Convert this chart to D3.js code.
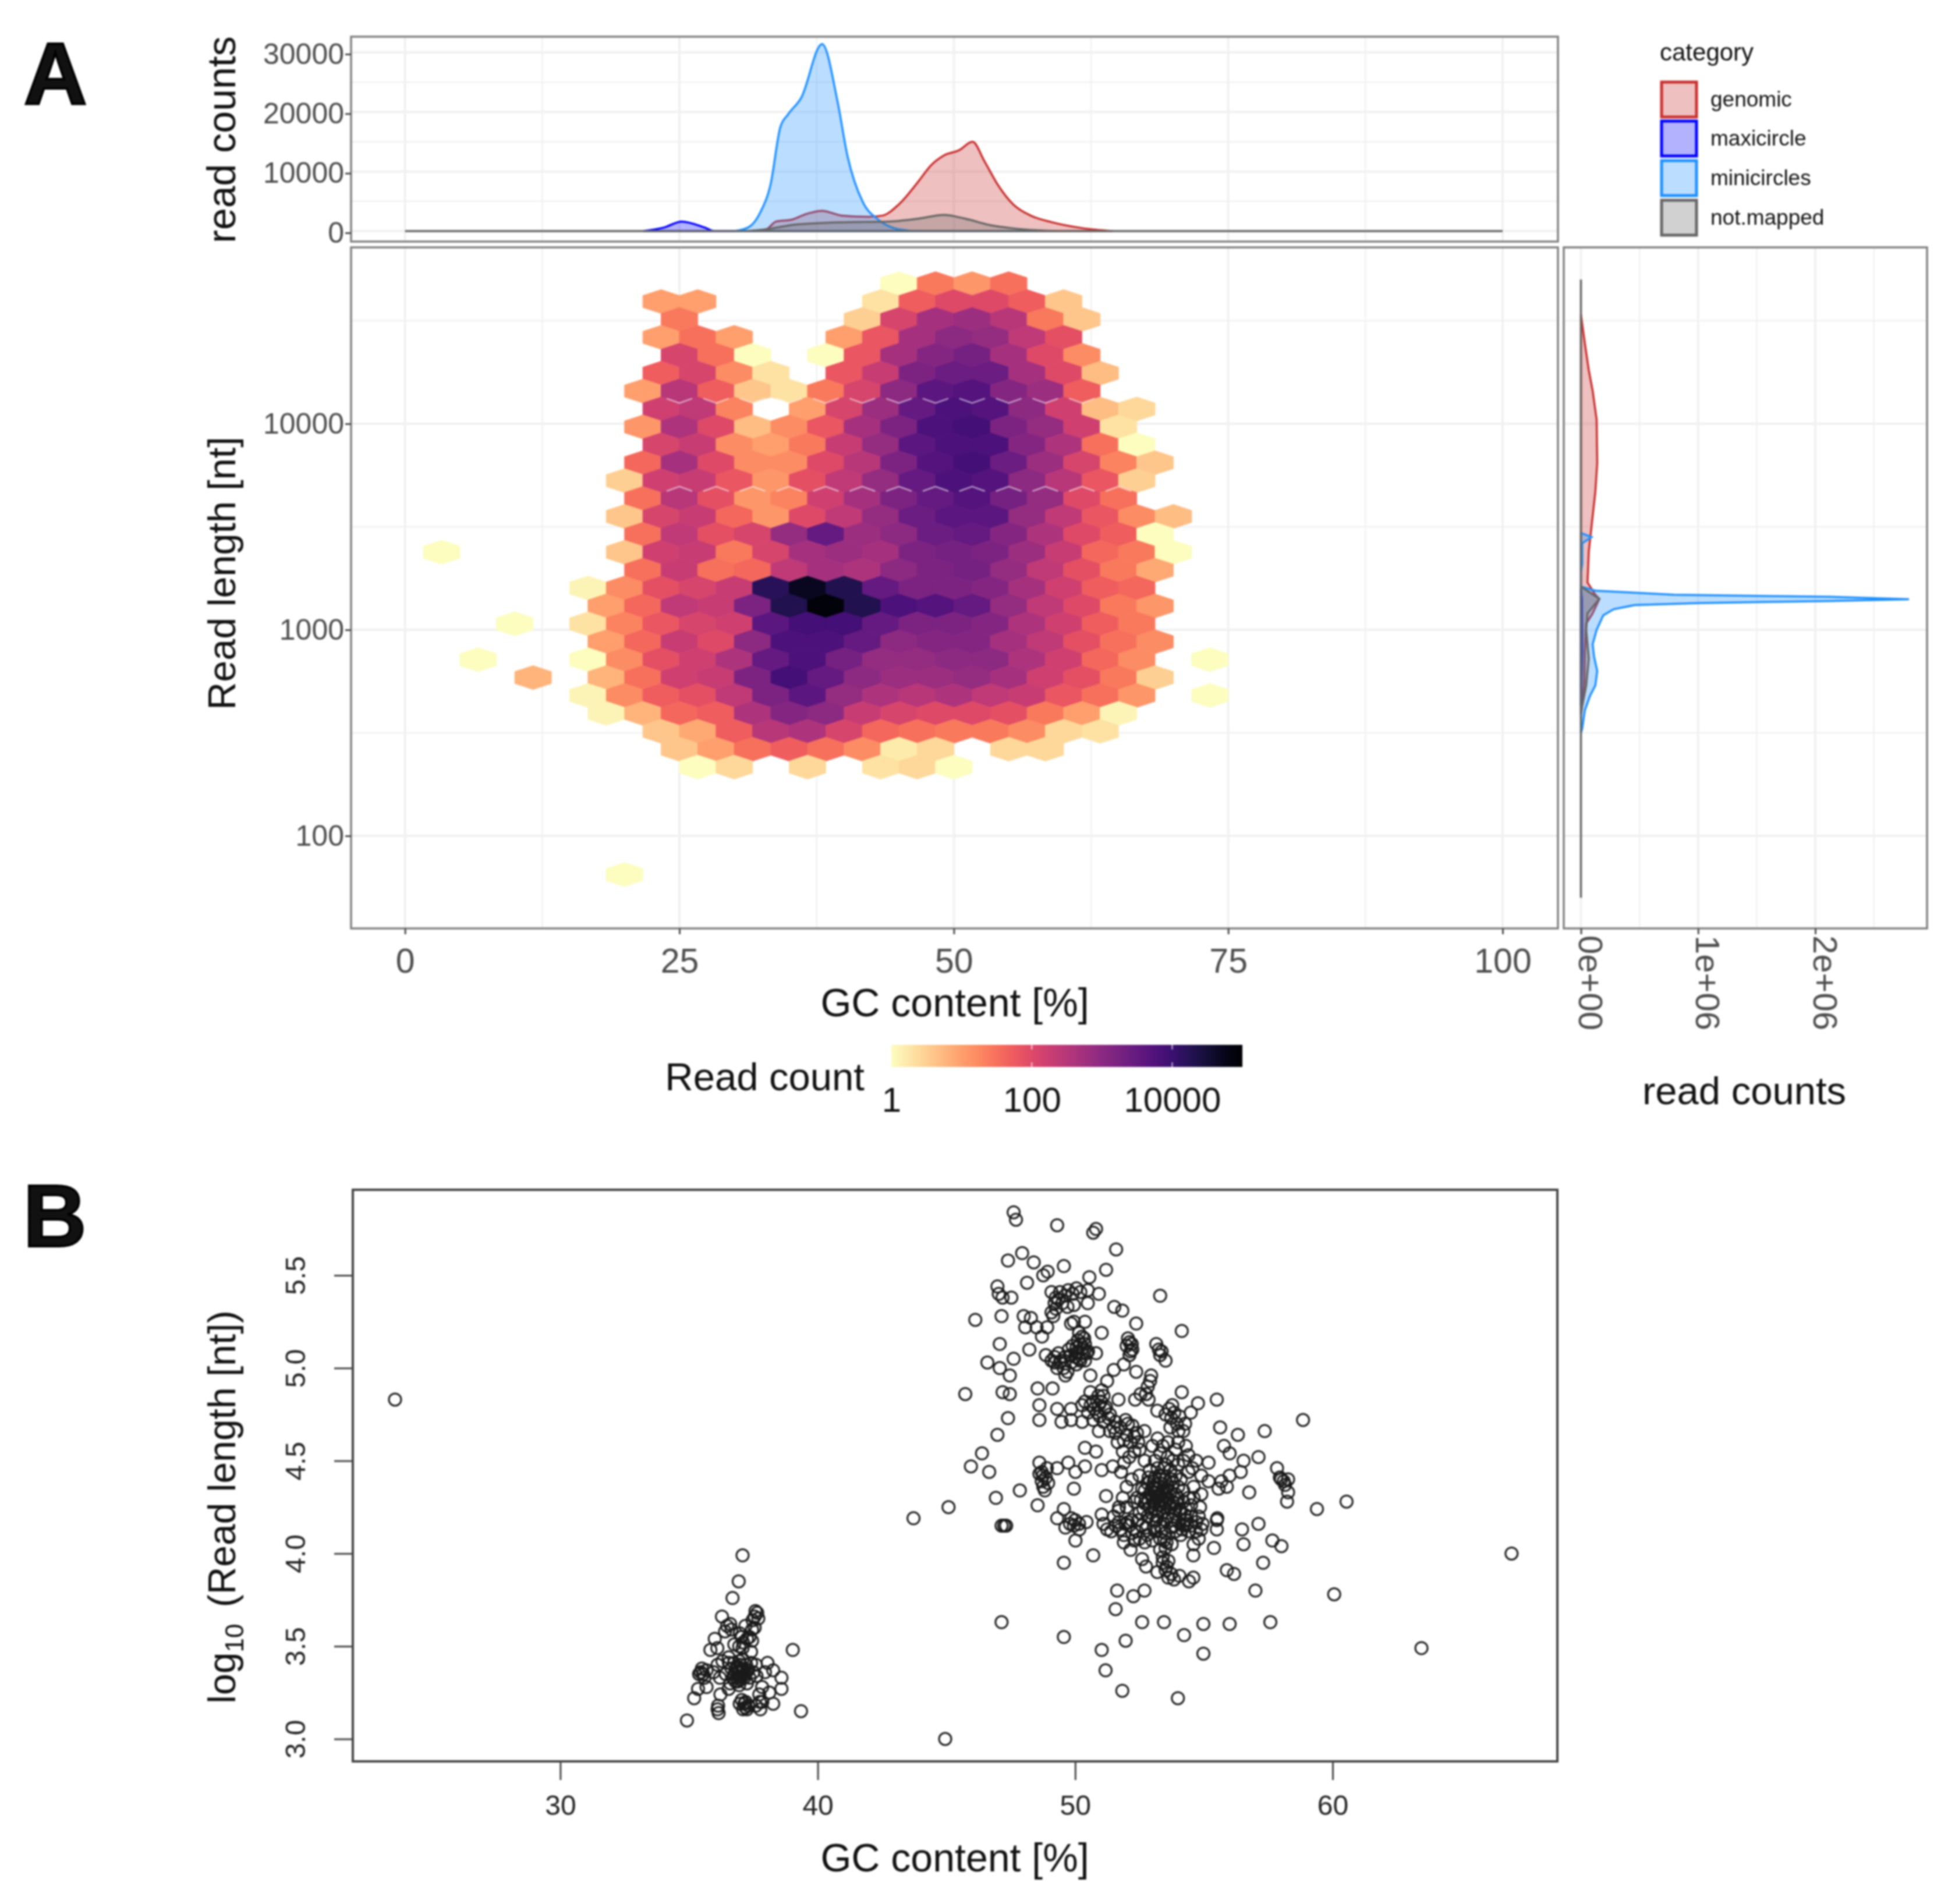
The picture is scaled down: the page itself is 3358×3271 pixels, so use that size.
<!DOCTYPE html>
<html lang="en">

<head>
  <meta charset="UTF-8">
  <title>Read length vs GC content</title>
  <script src="https://d3js.org/d3.v7.min.js"></script>
  <style>
    body { margin: 0; background: white; }
    svg { display: block; filter: blur(1.8px); font-family: "Liberation Sans", Arial, sans-serif; }
  </style>
</head>

<body>
  <svg id="figure" width="3358" height="3271"></svg>

  <script>
    // categories of the density curves
    const categories = ["genomic", "maxicircle", "minicircles", "not.mapped"];
    const catColors = ["#c8302f", "#0000ff", "#1e90ff", "#666666"];

    // top density: GC content [%] and read counts
    const topGenomicGC = [31.3, 32.9, 33.8, 35.2, 36.6, 38, 39.8, 42.2, 43.5, 45, 46.8, 47.9, 49.1, 50.5, 51.7, 52.8, 54, 55.4, 57, 58.9, 61.7, 64.5];
    const topGenomic = [0, 300, 1600, 1900, 2900, 3400, 2600, 2400, 2600, 4500, 8400, 11000, 12700, 13600, 15000, 11700, 7800, 4500, 2600, 1500, 500, 0];
    const topMaxiGC = [21.7, 23.6, 25.2, 27.3, 28.2, 47];
    const topMaxi = [0, 600, 1600, 600, 0, 0];
    const topMiniGC = [30, 31.3, 32.4, 33.3, 34.2, 34.9, 36.1, 38, 39.4, 40.3, 41.7, 43.1, 45, 46.8, 57.5];
    const topMini = [0, 650, 3250, 7800, 17500, 19600, 22400, 31400, 21800, 12700, 4900, 1950, 300, 0, 0];
    const topNotGC = [0, 31, 32.9, 35.6, 40.3, 44, 46.8, 49.1, 51, 53.3, 55.2, 58, 60, 100];
    const topNot = [0, 0, 300, 1100, 1500, 1600, 2100, 2700, 2100, 1000, 500, 100, 0, 0];

    // right density: log10 read length and read counts
    const rightGenomicLen = [4.53, 4.39, 4.26, 4.16, 4.02, 3.81, 3.67, 3.52, 3.38, 3.28, 3.23, 3.17, 3.15, 3.08, 3.03, 2.89, 2.75, 2.64, 2.59];
    const rightGenomic = [0, 33500, 67000, 100000, 134000, 139000, 123000, 94000, 67000, 60000, 56000, 123000, 157000, 100000, 45000, 33500, 29000, 11000, 0];
    const rightMaxiLen = [3.2, 3.15, 2.9, 2.63];
    const rightMaxi = [0, 8000, 10000, 0];
    const rightMiniLen = [3.47, 3.45, 3.42, 3.32, 3.28, 3.21, 3.19, 3.17, 3.16, 3.148, 3.14, 3.13, 3.12, 3.10, 3.07, 3.0, 2.93, 2.87, 2.80, 2.73, 2.68, 2.61, 2.52, 2.50];
    const rightMini = [0, 90000, 11000, 11000, 0, 0, 123000, 794000, 2130000, 2800000, 2130000, 1020000, 458000, 280000, 190000, 134000, 100000, 112000, 139000, 123000, 78000, 33500, 11000, 0];
    const rightNotLen = [4.7, 3.21, 3.15, 3.08, 3.0, 2.86, 2.73, 2.63, 2.59, 1.7];
    const rightNot = [0, 0, 157000, 56000, 45000, 67000, 45000, 11000, 0, 0];

    // hexbin cells: [row from top, first column, log10 read count per cell]
    // null = empty cell, columns advance by two in a row
    const hexRows = [
      [0, 27, [0, 1.4, 1.1, 1.5]],
      [1, 14, [1.0, 1.0]],
      [1, 26, [0.3, 1.7, 2.0, 2.0, 1.7, 0.6]],
      [2, 15, [1.4]],
      [2, 25, [0.5, 2.1, 2.7, 2.8, 2.5, 1.4, 0.6]],
      [3, 14, [1.0, 1.5, 1.0]],
      [3, 24, [1.0, 1.8, 2.7, 3.0, 2.9, 2.4, 1.9]],
      [4, 15, [2.1, 1.5, 0]],
      [4, 23, [0, 1.8, 2.7, 3.1, 3.3, 2.7, 2.0, 1.2]],
      [5, 14, [1.7, 2.1, 1.2, 0.3]],
      [5, 24, [1.8, 2.3, 3.2, 3.4, 3.4, 2.7, 2.0, 0.7]],
      [6, 13, [1.0, 2.5, 1.7, 0.6, 0.3, 1.4, 2.1, 3.0, 3.6, 3.7, 3.1, 2.8, 1.7]],
      [7, 14, [2.2, 2.4, 1.3, null, 1.0, 2.1, 2.8, 3.5, 3.8, 3.7, 3.0, 2.2, 0.7, 0.4]],
      [8, 13, [1.1, 2.6, 2.0, 0.7, 1.2, 1.8, 2.7, 3.2, 3.8, 3.9, 3.2, 2.9, 2.2, 0.3]],
      [9, 14, [2.1, 2.3, 1.2, 1.0, 1.4, 2.3, 2.9, 3.6, 3.8, 3.8, 3.1, 2.6, 1.5, 0]],
      [10, 13, [1.6, 2.7, 2.0, 1.2, 1.2, 2.0, 2.5, 3.2, 3.7, 3.9, 3.4, 2.8, 2.1, 1.3, 0.6]],
      [11, 12, [0.5, 2.2, 2.3, 1.8, 1.1, 1.9, 2.4, 2.9, 3.5, 3.8, 3.7, 3.0, 2.5, 1.8, 0.5]],
      [12, 13, [1.5, 2.5, 1.9, 1.1, 1.3, 2.2, 2.7, 3.2, 3.5, 3.7, 3.3, 2.9, 2.0, 1.5]],
      [13, 12, [0.6, 2.1, 2.3, 1.6, 1.1, 2.0, 2.4, 2.9, 3.4, 3.6, 3.6, 2.9, 2.4, 1.8, 1.2, 0.7]],
      [14, 13, [1.5, 2.4, 1.9, 2.1, 2.9, 3.5, 2.8, 3.0, 3.4, 3.5, 3.1, 2.6, 2.0, 1.7, 0]],
      [15, 2, [0]],
      [15, 12, [0.6, 2.2, 2.3, 1.4, 2.1, 2.7, 2.8, 2.7, 3.2, 3.3, 3.2, 2.8, 2.3, 1.6, 1.4, 0]],
      [16, 13, [1.5, 2.3, 1.5, 1.6, 2.4, 2.7, 2.6, 3.0, 3.2, 3.3, 2.9, 2.4, 1.9, 1.4, 0.9]],
      [17, 10, [0.1, 1.2, 1.9, 2.1, 2.3, 4.2, 4.7, 4.3, 3.5, 3.2, 3.2, 3.1, 2.7, 2.2, 1.7, 1.6]],
      [18, 11, [1.0, 1.6, 2.4, 2.3, 3.2, 4.3, 4.9, 4.3, 3.8, 3.7, 3.5, 2.9, 2.4, 2.0, 1.4, 1.1]],
      [19, 6, [0]],
      [19, 10, [0.3, 1.3, 1.8, 2.1, 2.2, 3.6, 3.9, 3.9, 3.5, 3.2, 3.2, 3.1, 2.6, 2.2, 1.7, 1.4]],
      [20, 11, [1.0, 1.6, 2.3, 2.0, 3.0, 3.8, 3.8, 3.5, 3.0, 3.1, 3.1, 2.7, 2.4, 1.9, 1.5, 1.2]],
      [21, 4, [0]],
      [21, 10, [0, 1.2, 1.9, 2.2, 2.6, 3.5, 3.8, 3.3, 2.9, 2.9, 3.0, 3.0, 2.6, 2.2, 1.6, 1.2]],
      [21, 44, [0]],
      [22, 7, [0.8]],
      [22, 11, [0.8, 1.5, 2.2, 2.3, 3.2, 3.9, 3.5, 3.0, 2.8, 2.8, 2.9, 2.7, 2.2, 1.9, 1.4, 0.5]],
      [23, 10, [0.1, 1.2, 1.7, 1.9, 2.4, 3.2, 3.6, 2.9, 2.6, 2.5, 2.6, 2.4, 2.3, 1.8, 1.5, 1.1]],
      [23, 44, [0]],
      [24, 11, [0.1, 0.8, 1.6, 1.7, 2.6, 3.1, 3.0, 2.3, 2.1, 2.0, 2.0, 1.9, 1.4, 1.0, 0.1]],
      [25, 14, [0.6, 0.9, 1.7, 2.5, 2.6, 2.1, 1.6, 1.5, 1.4, 1.4, 1.2, 0.4, 0.3]],
      [26, 15, [0.6, 1.0, 1.5, 1.7, 1.5, 1.2, 0.2, 0.4]],
      [26, 33, [0.4, 0.4]],
      [27, 16, [0, 0.4]],
      [27, 22, [0.4]],
      [27, 26, [0.3, 0.4, 0]],
      [33, 12, [0]]
    ];

    // tick labels
    const gcTicks = [0, 25, 50, 75, 100];
    const lenTicks = [2, 3, 4];
    const lenLabels = ["100", "1000", "10000"];
    const topTicks = [0, 10000, 20000, 30000];
    const rightTicks = [0, 1000000, 2000000];
    const rightLabels = ["0e+00", "1e+06", "2e+06"];
    const legendTicks = [0, 2, 4];
    const legendLabels = ["1", "100", "10000"];
    const bXTicks = [30, 40, 50, 60];
    const bYTicks = [3.0, 3.5, 4.0, 4.5, 5.0, 5.5];

    // panel B: [GC content, log10 read length]
    const readPoints = [
      [23.58, 4.83], [63.45, 3.49], [66.95, 4.0], [60.06, 3.78], [44.95, 3.0], [43.72, 4.19], [45.08, 4.25],
      [47.61, 5.84], [47.7, 5.8], [49.3, 5.77], [50.7, 5.73], [50.81, 5.75], [51.59, 5.64], [47.94, 5.62], [47.39, 5.58],
      [48.39, 5.57], [49.56, 5.55], [51.2, 5.53], [48.93, 5.52], [48.76, 5.5], [50.55, 5.49], [48.13, 5.46], [46.98, 5.44],
      [47.03, 5.4], [47.18, 5.38], [47.52, 5.38], [49.08, 5.41], [49.41, 5.41], [49.73, 5.42], [50.05, 5.43], [50.49, 5.42],
      [50.92, 5.4], [49.25, 5.38], [49.95, 5.34], [50.49, 5.35], [53.3, 5.39], [51.52, 5.33], [51.83, 5.31], [46.12, 5.26],
      [47.14, 5.28], [48.0, 5.28], [48.28, 5.27], [49.08, 5.3], [49.95, 5.25], [50.38, 5.25], [49.84, 5.24], [52.37, 5.24],
      [48.06, 5.22], [48.5, 5.22], [48.91, 5.22], [48.71, 5.17], [51.03, 5.19], [54.14, 5.2], [47.07, 5.13], [50.27, 5.17],
      [50.38, 5.13], [50.05, 5.11], [52.11, 5.14], [52.0, 5.12], [52.22, 5.1], [53.15, 5.13], [53.36, 5.09], [48.22, 5.1],
      [48.86, 5.07], [49.08, 5.04], [49.84, 5.07], [50.27, 5.08], [50.81, 5.08], [52.11, 5.07], [53.51, 5.04], [47.61, 5.05],
      [46.59, 5.03], [47.07, 5.0], [49.3, 5.0], [50.38, 5.04], [50.05, 5.02], [51.89, 5.02], [51.5, 4.99], [52.37, 4.98],
      [47.46, 4.96], [49.62, 4.96], [50.59, 4.96], [52.91, 4.93], [52.82, 4.9], [48.54, 4.89], [49.12, 4.89], [51.24, 4.93],
      [47.18, 4.87], [47.46, 4.86], [45.73, 4.86], [50.59, 4.87], [51.03, 4.88], [54.14, 4.87], [49.4, 5.03], [49.6, 5.06],
      [50.15, 5.05], [50.5, 5.09], [49.2, 5.06], [50.2, 5.13], [49.75, 5.1], [50.1, 5.15], [49.5, 5.35], [49.7, 5.33],
      [50.1, 5.09], [50.3, 5.11], [50.45, 5.08], [50.2, 5.04], [50.0, 5.06], [49.9, 5.12], [50.15, 5.19], [50.35, 5.16],
      [49.45, 5.04], [49.2, 5.03], [49.35, 5.08], [49.55, 5.0], [49.7, 4.98], [49.85, 5.03], [52.05, 5.16], [52.15, 5.09],
      [52.2, 5.13], [53.25, 5.1], [53.3, 5.07], [49.2, 5.35], [49.35, 5.37], [49.6, 5.39], [49.9, 5.4], [50.2, 5.41],
      [49.15, 5.28], [49.25, 5.32], [52.95, 4.96], [52.75, 4.86], [52.85, 4.83],
      [52.54, 4.86], [52.33, 4.83], [51.68, 4.83], [50.38, 4.82], [55.5, 4.83], [54.77, 4.81], [48.61, 4.8], [49.3, 4.78],
      [49.84, 4.78], [50.27, 4.8], [50.92, 4.8], [51.14, 4.78], [53.77, 4.8], [53.19, 4.77], [54.49, 4.76], [47.39, 4.73],
      [48.61, 4.72], [49.47, 4.71], [49.84, 4.72], [50.27, 4.71], [50.7, 4.72], [51.57, 4.71], [53.51, 4.75], [53.73, 4.73],
      [54.05, 4.74], [58.85, 4.72], [51.96, 4.72], [46.98, 4.64], [52.22, 4.69], [52.69, 4.66], [55.63, 4.68], [57.36, 4.66],
      [54.27, 4.7], [50.92, 4.66], [51.57, 4.65], [51.89, 4.61], [56.32, 4.64], [54.01, 4.66], [50.7, 4.82], [50.85, 4.76],
      [51.1, 4.85], [51.3, 4.73], [50.5, 4.76], [50.6, 4.8], [51.75, 4.68], [52.0, 4.64], [52.15, 4.6], [51.65, 4.6],
      [50.9, 4.85], [51.0, 4.82], [51.2, 4.79], [50.75, 4.78], [50.95, 4.74], [51.1, 4.71], [51.35, 4.75], [51.5, 4.68],
      [51.35, 4.66], [52.05, 4.7], [52.3, 4.63], [52.45, 4.6], [52.5, 4.56], [52.4, 4.65], [51.85, 4.55], [53.85, 4.76],
      [53.65, 4.78], [53.95, 4.7], [53.7, 4.68], [54.2, 4.66],
      [46.38, 4.54], [45.95, 4.47], [46.66, 4.44], [48.61, 4.49], [49.3, 4.46], [49.73, 4.49], [50.38, 4.47], [50.01, 4.44],
      [50.38, 4.57], [50.81, 4.55], [51.03, 4.45], [51.46, 4.47], [51.78, 4.44], [48.61, 4.43], [48.86, 4.41], [48.76, 4.36],
      [48.82, 4.34], [47.85, 4.34], [49.95, 4.35], [46.92, 4.3], [48.54, 4.26], [51.2, 4.31], [49.56, 4.24], [49.3, 4.19],
      [49.95, 4.15], [49.62, 4.14], [50.16, 4.13], [50.01, 4.07], [50.44, 4.17], [51.03, 4.21], [51.68, 4.23], [51.24, 4.13],
      [51.57, 4.15], [51.89, 4.1], [52.22, 4.11], [51.89, 4.06], [47.14, 4.15], [47.24, 4.15], [47.32, 4.15], [48.7, 4.39],
      [48.75, 4.42], [49.8, 4.16], [51.1, 4.16], [51.4, 4.12], [52.05, 4.17], [51.7, 4.17], [52.1, 4.52], [51.9, 4.49],
      [49.85, 4.19], [50.0, 4.18], [50.15, 4.16], [48.95, 4.38], [48.7, 4.44], [48.9, 4.46],
      [55.18, 4.49], [55.78, 4.58], [56.0, 4.54], [56.54, 4.5], [57.12, 4.52], [56.43, 4.44], [56.0, 4.42], [55.68, 4.39],
      [55.18, 4.39], [55.57, 4.35], [55.89, 4.36], [56.76, 4.33], [57.84, 4.46], [57.95, 4.41], [58.1, 4.39], [58.27, 4.4],
      [58.0, 4.4], [58.15, 4.37], [58.27, 4.33], [58.23, 4.28], [59.39, 4.24], [60.54, 4.28], [55.5, 4.18], [55.5, 4.13],
      [55.52, 4.19], [56.48, 4.13], [57.12, 4.16], [57.66, 4.07], [58.01, 4.04], [56.54, 4.05], [55.39, 4.03], [54.59, 3.99],
      [57.3, 3.95], [55.89, 3.91], [56.17, 3.89], [57.0, 3.8], [54.59, 3.87], [54.42, 3.85], [57.58, 3.63], [56.0, 3.62],
      [54.98, 3.62], [54.23, 3.56], [53.45, 3.63], [52.6, 3.63], [47.14, 3.63], [49.56, 3.55], [51.96, 3.53], [51.03, 3.48],
      [54.98, 3.46], [51.18, 3.37], [51.83, 3.26], [53.99, 3.22], [51.57, 3.7], [52.26, 3.77], [52.69, 3.8], [51.63, 3.8],
      [49.56, 3.95], [50.7, 3.99], [52.6, 3.97], [52.75, 3.93], [53.3, 4.02], [53.51, 4.03], [53.4, 3.95], [53.62, 3.96],
      [53.19, 3.9], [53.51, 3.91], [53.73, 3.89], [53.84, 3.86], [53.62, 3.87], [54.05, 3.88], [53.4, 3.98], [53.55, 3.93],
      // dense core
      [52.2, 4.4], [52.3, 4.55], [52.4, 4.3], [52.5, 4.22], [52.5, 4.42], [52.6, 4.15], [52.6, 4.35], [52.7, 4.5], [52.7, 4.27],
      [52.8, 4.1], [52.8, 4.2], [52.8, 4.38], [52.9, 4.32], [52.9, 4.45], [52.9, 4.25], [53.0, 4.58], [53.0, 4.18], [53.0, 4.3],
      [53.0, 4.36], [53.1, 4.12], [53.1, 4.24], [53.1, 4.28], [53.1, 4.33], [53.1, 4.41], [53.1, 4.5], [53.2, 4.62], [53.2, 4.2],
      [53.2, 4.3], [53.2, 4.35], [53.2, 4.46], [53.3, 4.08], [53.3, 4.15], [53.3, 4.26], [53.3, 4.31], [53.3, 4.38], [53.3, 4.54],
      [53.4, 4.22], [53.4, 4.29], [53.4, 4.34], [53.4, 4.42], [53.4, 4.58], [53.5, 4.11], [53.5, 4.18], [53.5, 4.27], [53.5, 4.33],
      [53.5, 4.4], [53.5, 4.48], [53.6, 4.22], [53.6, 4.3], [53.6, 4.36], [53.6, 4.52], [53.6, 4.6], [53.7, 4.14], [53.7, 4.25],
      [53.7, 4.33], [53.7, 4.45], [53.8, 4.2], [53.8, 4.28], [53.8, 4.38], [53.8, 4.5], [53.9, 4.12], [53.9, 4.24], [53.9, 4.32],
      [53.9, 4.42], [53.9, 4.56], [54.0, 4.17], [54.0, 4.3], [54.0, 4.36], [54.0, 4.48], [54.0, 4.6], [54.1, 4.22], [54.1, 4.4],
      [54.1, 4.1], [54.2, 4.15], [54.2, 4.28], [54.2, 4.34], [54.2, 4.5], [54.3, 4.58], [54.3, 4.24], [54.3, 4.18], [54.4, 4.12],
      [54.4, 4.3], [54.4, 4.44], [54.5, 4.2], [54.5, 4.15], [54.5, 4.26], [54.6, 4.3], [54.6, 4.36], [54.7, 4.17], [54.7, 4.12],
      [54.8, 4.2], [54.8, 4.08], [54.6, 4.05], [52.1, 4.15], [52.2, 4.18], [52.0, 4.25], [52.4, 4.12], [52.5, 4.08], [52.3, 4.28],
      [52.75, 4.3], [52.85, 4.28], [52.95, 4.22], [53.05, 4.27], [53.15, 4.31], [53.25, 4.23], [53.35, 4.33], [52.95, 4.34],
      [53.05, 4.39], [53.15, 4.18], [53.25, 4.28], [52.65, 4.24], [52.7, 4.34], [53.45, 4.25], [53.55, 4.35], [53.65, 4.27],
      [53.75, 4.4], [52.55, 4.29], [52.85, 4.41], [53.25, 4.42], [53.45, 4.46], [53.75, 4.18], [53.95, 4.27], [54.05, 4.24],
      [54.25, 4.21], [54.35, 4.16], [54.15, 4.13], [53.85, 4.15], [53.35, 4.12], [53.05, 4.14], [52.75, 4.14], [52.45, 4.18],
      [54.55, 4.46], [54.4, 4.53], [54.7, 4.5], [54.9, 4.42], [52.0, 4.36], [51.85, 4.3], [51.7, 4.25], [51.5, 4.2],
      [51.75, 4.13], [51.95, 4.16], [52.3, 4.07], [52.15, 4.02], [53.75, 4.05], [53.45, 4.07], [54.95, 4.16], [54.85, 4.25],
      [54.9, 4.32], [52.7, 4.06], [53.0, 4.07], [53.55, 4.06], [54.9, 4.13],
      // lower left cluster
      [37.08, 3.99], [36.93, 3.85], [36.69, 3.76], [36.28, 3.66], [36.48, 3.61], [37.58, 3.69], [37.69, 3.65], [37.47, 3.64],
      [37.19, 3.61], [37.45, 3.59], [36.65, 3.59], [36.97, 3.57], [37.25, 3.54], [36.0, 3.54], [35.83, 3.48], [36.1, 3.49],
      [36.76, 3.51], [37.08, 3.49], [37.41, 3.47], [39.03, 3.48], [38.05, 3.41], [37.08, 3.43], [36.54, 3.44], [36.11, 3.4],
      [35.68, 3.37], [35.39, 3.35], [38.27, 3.37], [38.59, 3.33], [38.59, 3.27], [38.12, 3.25], [38.27, 3.19], [37.77, 3.16],
      [39.35, 3.15], [37.19, 3.17], [36.97, 3.19], [36.11, 3.16], [35.2, 3.22], [34.92, 3.1], [35.35, 3.27], [35.68, 3.28],
      [36.22, 3.24], [36.54, 3.27], [37.73, 3.24], [37.84, 3.28], [36.65, 3.38], [36.86, 3.39], [37.08, 3.38], [37.3, 3.37],
      [36.76, 3.35], [36.97, 3.34], [37.19, 3.35], [37.41, 3.41], [36.43, 3.35], [37.62, 3.34], [36.9, 3.36], [37.0, 3.4],
      [37.15, 3.33], [36.8, 3.31], [37.25, 3.3], [36.95, 3.29], [37.6, 3.4], [36.3, 3.42], [37.3, 3.18], [37.1, 3.16],
      [37.2, 3.2], [36.13, 3.18], [37.45, 3.53], [37.05, 3.55], [35.45, 3.36], [35.6, 3.33], [37.75, 3.2], [37.95, 3.36],
      [36.7, 3.33], [36.85, 3.33], [37.0, 3.32], [37.12, 3.37], [37.22, 3.4], [36.75, 3.41], [36.6, 3.3], [36.95, 3.42],
      [37.35, 3.33], [37.5, 3.36], [36.55, 3.41], [36.9, 3.31], [37.05, 3.36], [36.98, 3.37], [36.88, 3.38], [37.1, 3.34],
      [36.2, 3.33], [35.95, 3.36], [35.55, 3.35], [35.5, 3.38], [37.55, 3.6], [37.65, 3.68], [37.55, 3.66], [36.6, 3.62],
      [36.4, 3.58], [37.1, 3.52], [36.95, 3.5], [37.35, 3.55], [37.6, 3.18], [37.25, 3.16], [37.15, 3.19], [37.05, 3.21],
      [36.15, 3.14], [37.85, 3.2]
    ];

    const svg = d3.select("svg#figure");

    // panel rectangles
    const topPanel = { left: 603, right: 2676, top: 63, bottom: 415 };
    const mainPanel = { left: 603, right: 2676, top: 425, bottom: 1595 };
    const rightPanel = { left: 2686, right: 3310, top: 425, bottom: 1595 };
    const bPanel = { left: 606, right: 2675, top: 2044, bottom: 3026 };

    // scales
    const gcScale = d3.scaleLinear().domain([0, 100]).range([695.7, 2581]);
    const lenScale = d3.scaleLinear().domain([2, 4]).range([1436, 728]);
    const topScale = d3.scaleLinear().domain([0, 30000]).range([397, 90]);
    const rightScale = d3.scaleLinear().domain([0, 2000000]).range([2715.5, 3118]);
    const legendScale = d3.scaleLinear().domain([0, 5]).range([1531, 2134]);
    const bX = d3.scaleLinear().domain([40, 60]).range([1404.6, 2289]);
    const bY = d3.scaleLinear().domain([3, 5.5]).range([2987.5, 2191]);

    const magma = v => d3.interpolateMagma(1 - v / 5);
    const axisGray = "#4d4d4d";

    //background grid
    function grid(panel, xs, ys, width) {
      let g = svg.append("g").attr("stroke", "#f1f1f1").attr("stroke-width", width);
      g.selectAll("line.v").data(xs).join("line")
        .attr("x1", d => d).attr("x2", d => d).attr("y1", panel.top).attr("y2", panel.bottom);
      g.selectAll("line.h").data(ys).join("line")
        .attr("x1", panel.left).attr("x2", panel.right).attr("y1", d => d).attr("y2", d => d);
    }

    const gcMinor = [12.5, 37.5, 62.5, 87.5];
    const lenMinor = [2.5, 3.5, 4.5];
    grid(topPanel, gcTicks.map(gcScale), topTicks.map(topScale), 4);
    grid(topPanel, gcMinor.map(gcScale), [5000, 15000, 25000].map(topScale), 2.5);
    grid(mainPanel, gcTicks.map(gcScale), lenTicks.map(lenScale), 4);
    grid(mainPanel, gcMinor.map(gcScale), lenMinor.map(lenScale), 2.5);
    grid(rightPanel, rightTicks.map(rightScale), lenTicks.map(lenScale), 4);
    grid(rightPanel, [500000, 1500000, 2500000].map(rightScale), lenMinor.map(lenScale), 2.5);

    //hexagons
    const colStep = 100 / 60;
    const rowTop = 4.68, rowStep = 0.0869;
    const hexR = rowStep / 1.5;
    const hexLine = d3.line().x(d => gcScale(d[0])).y(d => lenScale(d[1]));

    const hexCells = hexRows.flatMap(([row, col, vals]) =>
      vals.map((v, i) => ({ row: row, col: col + 2 * i, v: v })).filter(d => d.v !== null));

    function hexPath(d) {
      const gc = d.col * colStep, lg = rowTop - d.row * rowStep;
      return hexLine([
        [gc, lg + hexR], [gc + colStep, lg + hexR / 2], [gc + colStep, lg - hexR / 2],
        [gc, lg - hexR], [gc - colStep, lg - hexR / 2], [gc - colStep, lg + hexR / 2]
      ]) + "Z";
    }

    svg.append("g").selectAll("path").data(hexCells).join("path")
      .attr("d", hexPath)
      .attr("fill", d => magma(d.v))
      .attr("stroke", d => magma(d.v))
      .attr("stroke-width", 1);

    // pale seams the hexagons leave along two rows
    function seamPath(d, side) {
      const gc = d.col * colStep, lg = rowTop - d.row * rowStep;
      return hexLine([
        [gc - colStep * 0.7, lg + side * hexR * 0.62], [gc, lg + side * hexR], [gc + colStep * 0.7, lg + side * hexR * 0.62]
      ]);
    }
    const seams = svg.append("g").attr("fill", "none").attr("stroke", "white")
      .attr("stroke-width", 2.5).attr("stroke-opacity", 0.55);
    seams.selectAll("path.low").data(hexCells.filter(d => d.row == 6 && d.col >= 15)).join("path")
      .attr("d", d => seamPath(d, -1));
    seams.selectAll("path.up").data(hexCells.filter(d => d.row == 12 && d.col >= 15)).join("path")
      .attr("d", d => seamPath(d, 1));

    //density curves
    const topSeries = [
      { x: topGenomicGC, y: topGenomic }, { x: topMaxiGC, y: topMaxi },
      { x: topMiniGC, y: topMini }, { x: topNotGC, y: topNot }
    ];
    const rightSeries = [
      { x: rightGenomicLen, y: rightGenomic }, { x: rightMaxiLen, y: rightMaxi },
      { x: rightMiniLen, y: rightMini }, { x: rightNotLen, y: rightNot }
    ];

    const topArea = d3.area().curve(d3.curveMonotoneX)
      .x(d => gcScale(d[0])).y0(topScale(0)).y1(d => topScale(d[1]));
    const rightArea = d3.area().y(d => lenScale(d[0])).x0(rightScale(0)).x1(d => rightScale(d[1]));

    topSeries.forEach((s, i) => {
      const pts = d3.zip(s.x, s.y);
      svg.append("path").attr("d", topArea(pts) + "Z")
        .attr("fill", catColors[i]).attr("fill-opacity", 0.3)
        .attr("stroke", catColors[i]).attr("stroke-width", 3.5);
    });
    rightSeries.forEach((s, i) => {
      const pts = d3.zip(s.x, s.y);
      svg.append("path").attr("d", rightArea(pts) + "Z")
        .attr("fill", catColors[i]).attr("fill-opacity", 0.3)
        .attr("stroke", catColors[i]).attr("stroke-width", 3.5);
    });

    //panel borders
    [topPanel, mainPanel, rightPanel].forEach(p => {
      svg.append("rect").attr("x", p.left).attr("y", p.top)
        .attr("width", p.right - p.left).attr("height", p.bottom - p.top)
        .attr("fill", "none").attr("stroke", "#808080").attr("stroke-width", 3.5);
    });

    //axes
    function styleAxis(g, size) {
      g.select(".domain").remove();
      g.selectAll(".tick line").attr("stroke", axisGray).attr("stroke-width", 3);
      g.selectAll(".tick text").attr("fill", axisGray).attr("font-size", size).attr("font-family", "Liberation Sans");
    }

    svg.append("g").attr("transform", "translate(0," + mainPanel.bottom + ")")
      .call(d3.axisBottom(gcScale).tickValues(gcTicks).tickSize(10).tickPadding(24))
      .call(styleAxis, 59);

    svg.append("g").attr("transform", "translate(" + mainPanel.left + ",0)")
      .call(d3.axisLeft(lenScale).tickValues(lenTicks).tickFormat((d, i) => lenLabels[i]).tickSize(10).tickPadding(2))
      .call(styleAxis, 50);

    svg.append("g").attr("transform", "translate(" + topPanel.left + ",3)")
      .call(d3.axisLeft(topScale).tickValues(topTicks).tickFormat(d3.format("d")).tickSize(10).tickPadding(2))
      .call(styleAxis, 50);

    svg.append("g").attr("transform", "translate(0," + rightPanel.bottom + ")")
      .call(d3.axisBottom(rightScale).tickValues(rightTicks).tickFormat((d, i) => rightLabels[i]).tickSize(10))
      .call(styleAxis, 58)
      .selectAll(".tick text")
      .attr("text-anchor", "start").attr("dy", 0).attr("y", 0)
      .attr("transform", "translate(-4,12) rotate(90)");

    function label(x, y, text, size, rotate, anchor) {
      return svg.append("text")
        .attr("transform", "translate(" + x + "," + y + ") rotate(" + (rotate || 0) + ")")
        .attr("text-anchor", anchor || "middle")
        .attr("font-size", size)
        .attr("fill", "#111")
        .text(text);
    }

    label(1640, 1746, "GC content [%]", 68);
    label(404, 985, "Read length [nt]", 66.5, -90);
    label(404, 240, "read counts", 68, -90);
    label(2996, 1897, "read counts", 67);
    label(41, 178, "A", 150).attr("text-anchor", "start").attr("font-weight", "bold")
      .attr("stroke", "black").attr("stroke-width", 4);
    label(40, 2141, "B", 150).attr("text-anchor", "start").attr("font-weight", "bold")
      .attr("stroke", "black").attr("stroke-width", 4);

    //colour bar
    const barStops = d3.range(0, 1.001, 0.05);
    const gradient = svg.append("defs").append("linearGradient").attr("id", "readCountBar");
    gradient.selectAll("stop").data(barStops).join("stop")
      .attr("offset", d => d)
      .attr("stop-color", d => d3.interpolateMagma(1 - d));
    svg.append("rect").attr("x", legendScale(0)).attr("y", 1795)
      .attr("width", legendScale(5) - legendScale(0)).attr("height", 38)
      .attr("fill", "url(#readCountBar)");
    svg.append("g").attr("stroke", "white").attr("stroke-opacity", 0.6).attr("stroke-width", 2.5)
      .selectAll("path").data(legendTicks.slice(1)).join("path")
      .attr("d", d => "M" + legendScale(d) + ",1795v8M" + legendScale(d) + ",1825v8");
    svg.append("g").attr("transform", "translate(0,1833)")
      .call(d3.axisBottom(legendScale).tickValues(legendTicks).tickFormat((d, i) => legendLabels[i]).tickSize(0).tickPadding(34))
      .call(styleAxis, 60)
      .selectAll(".tick text").attr("fill", "#111");
    label(1485, 1873, "Read count", 67, 0, "end");

    //category legend
    label(2851, 104, "category", 42, 0, "start");
    const keyY = [139, 206, 274, 342];
    categories.forEach((c, i) => {
      svg.append("rect").attr("x", 2854).attr("y", keyY[i] + 2).attr("width", 60).attr("height", 60)
        .attr("fill", catColors[i]).attr("fill-opacity", 0.3)
        .attr("stroke", catColors[i]).attr("stroke-width", 5);
      label(2938, keyY[i] + 44, c, 37, 0, "start");
    });

    //panel B
    svg.append("g").selectAll("circle").data(readPoints).join("circle")
      .attr("cx", d => bX(d[0]))
      .attr("cy", d => bY(d[1]))
      .attr("r", 10.5)
      .attr("fill", "none")
      .attr("stroke", "#1a1a1a")
      .attr("stroke-width", 3);

    svg.append("rect").attr("x", bPanel.left).attr("y", bPanel.top)
      .attr("width", bPanel.right - bPanel.left).attr("height", bPanel.bottom - bPanel.top)
      .attr("fill", "none").attr("stroke", "#444").attr("stroke-width", 4);

    function styleBaseAxis(g) {
      g.select(".domain").remove();
      g.selectAll(".tick line").attr("stroke", "#444").attr("stroke-width", 3);
      g.selectAll(".tick text").attr("fill", "#222").attr("font-size", 48).attr("font-family", "Liberation Sans");
    }

    svg.append("g").attr("transform", "translate(0," + bPanel.bottom + ")")
      .call(d3.axisBottom(bX).tickValues(bXTicks).tickFormat(d3.format("d")).tickSize(32).tickPadding(26))
      .call(styleBaseAxis);

    svg.append("g").attr("transform", "translate(" + bPanel.left + ",0)")
      .call(d3.axisLeft(bY).tickValues(bYTicks).tickFormat(d3.format(".1f")).tickSize(32))
      .call(styleBaseAxis)
      .selectAll(".tick text")
      .attr("text-anchor", "middle").attr("x", 0).attr("dy", 0)
      .attr("transform", "translate(-82,0) rotate(-90)");

    label(1640, 3215, "GC content [%]", 68);
    const bYLabel = label(404, 2589, "", 66, -90);
    bYLabel.append("tspan").text("log");
    bYLabel.append("tspan").attr("font-size", 44).attr("dy", 14).text("10");
    bYLabel.append("tspan").attr("dy", -14).attr("dx", 10).text(" (Read length [nt])");

  </script>
</body>

</html>
